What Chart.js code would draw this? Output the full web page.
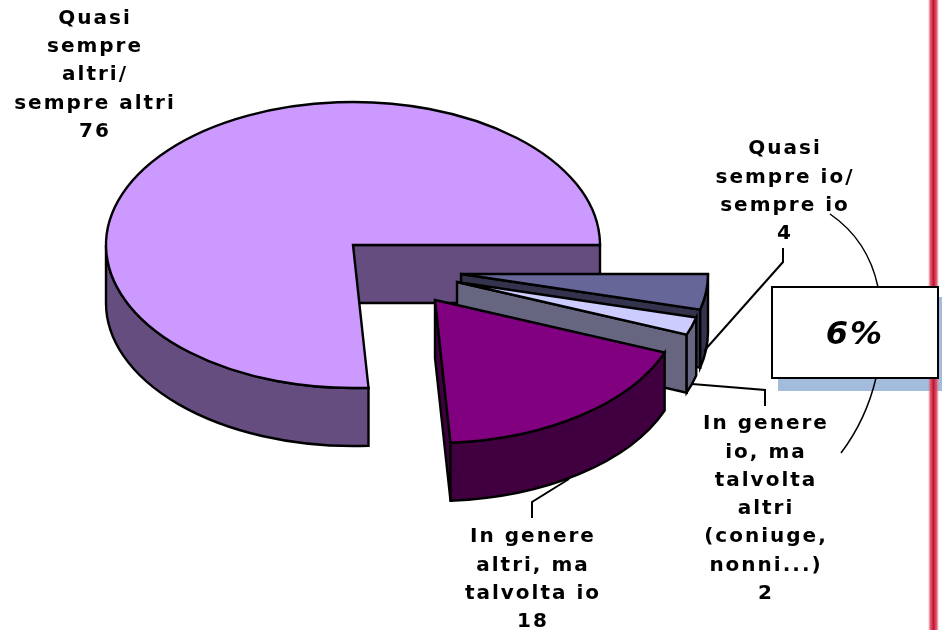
<!DOCTYPE html>
<html>
<head>
<meta charset="utf-8">
<title>Pie</title>
<script src="https://cdn.jsdelivr.net/npm/chart.js@4/dist/chart.umd.js"></script>
<style>
  html, body { margin: 0; padding: 0; background: #fff; }
  canvas { display: block; }
</style>
</head>
<body>
<canvas id="pie" width="942" height="630"></canvas>
<script>
// dati
const categories = ['Quasi sempre altri/ sempre altri', 'Quasi sempre io/ sempre io', 'In genere io, ma talvolta altri (coniuge, nonni...)', 'In genere altri, ma talvolta io'];
const values = [76, 4, 2, 18];
const labelLines = [
    ['Quasi', 'sempre', 'altri/', 'sempre altri', '76'],
    ['Quasi', 'sempre io/', 'sempre io', '4'],
    ['In genere', 'io, ma', 'talvolta', 'altri', '(coniuge,', 'nonni...)', '2'],
    ['In genere', 'altri, ma', 'talvolta io', '18']
];
const calloutText = '6%';

// stile
const topColors = ['#CC99FF', '#666699', '#CCCCFF', '#800080'];
const sideColors = ['#664D80', '#33334D', '#666680', '#400040'];
const explode = [[0, 0], [108, 29], [104, 37], [82, 55]];
const labelPos = [[95, 18.5], [785, 149], [766, 424], [533, 537]];
const lineGap = 28.3;
const squash = 0.579;
const depth = 58;
const pieCenterY = 245;

function rimPath(ctx, cx, cy, r, from, to) {
    ctx.ellipse(cx, cy, r, r * squash, 0, from, to);
}

function drawSlice(ctx, arc, i) {
    const cx = arc.x + explode[i][0];
    const cy = pieCenterY + explode[i][1];
    const r = arc.outerRadius;
    const TAU = Math.PI * 2;
    // gli angoli di Chart.js possono partire oltre 360 gradi
    let a0 = arc.startAngle;
    let a1 = arc.endAngle;
    if (a0 > TAU - 0.001) {
        a0 -= TAU;
        a1 -= TAU;
    }
    const px = a => cx + r * Math.cos(a);
    const py = a => cy + r * squash * Math.sin(a);

    ctx.lineWidth = 2.4;
    ctx.lineJoin = 'miter';
    ctx.strokeStyle = '#000';
    ctx.fillStyle = sideColors[i];

    // pareti radiali visibili
    [[a0, -Math.cos(a0)], [a1, Math.cos(a1)]].forEach(([a, facing]) => {
        if (facing <= 0) return;
        ctx.beginPath();
        ctx.moveTo(cx, cy);
        ctx.lineTo(px(a), py(a));
        ctx.lineTo(px(a), py(a) + depth);
        ctx.lineTo(cx, cy + depth);
        ctx.closePath();
        ctx.fill();
        ctx.stroke();
    });

    // parete esterna (solo la parte davanti)
    const from = Math.max(a0, 0);
    const to = Math.min(a1, Math.PI);
    if (to > from) {
        ctx.beginPath();
        rimPath(ctx, cx, cy, r, from, to);
        ctx.lineTo(px(to), py(to) + depth);
        ctx.ellipse(cx, cy + depth, r, r * squash, 0, to, from, true);
        ctx.closePath();
        ctx.fill();
        ctx.stroke();
    }

    // faccia superiore: riempimento dall'elemento arc, schiacciato
    ctx.save();
    ctx.translate(explode[i][0], cy);
    ctx.scale(1, squash);
    ctx.translate(0, -arc.y);
    arc.draw(ctx);
    ctx.restore();

    ctx.beginPath();
    ctx.moveTo(cx, cy);
    rimPath(ctx, cx, cy, r, a0, a1);
    ctx.closePath();
    ctx.stroke();
}

function polyline(ctx, pts) {
    ctx.beginPath();
    ctx.moveTo(pts[0][0], pts[0][1]);
    pts.slice(1).forEach(p => ctx.lineTo(p[0], p[1]));
    ctx.stroke();
}

const pie3d = {
    id: 'pie3d',
    beforeDatasetsDraw(chart) {
        const ctx = chart.ctx;
        chart.getDatasetMeta(0).data.forEach((arc, i) => drawSlice(ctx, arc, i));
        return false;
    },
    afterDraw(chart) {
        const ctx = chart.ctx;
        ctx.save();

        // ombra del riquadro
        ctx.fillStyle = '#A4BCDC';
        ctx.fillRect(778, 297, 164, 94);

        // riga rossa
        const g = ctx.createLinearGradient(928, 0, 939, 0);
        g.addColorStop(0, 'rgba(230,120,140,0)');
        g.addColorStop(0.2, 'rgba(225,80,100,0.9)');
        g.addColorStop(0.5, 'rgba(190,20,50,1)');
        g.addColorStop(0.8, 'rgba(225,80,100,0.9)');
        g.addColorStop(1, 'rgba(230,120,140,0)');
        ctx.fillStyle = g;
        ctx.fillRect(928, 0, 11, 630);

        // riquadro
        ctx.fillStyle = '#fff';
        ctx.fillRect(772, 287, 166, 91);
        ctx.strokeStyle = '#000';
        ctx.lineWidth = 2;
        ctx.strokeRect(772, 287, 166, 91);

        // linee guida
        polyline(ctx, [[783, 248], [783, 262], [704, 351]]);
        polyline(ctx, [[765, 406], [765, 390], [692, 384]]);
        polyline(ctx, [[532, 518], [532, 502], [569, 479]]);

        // parentesi curve attorno al riquadro
        ctx.lineWidth = 1.5;
        ctx.beginPath();
        ctx.moveTo(830, 214);
        ctx.quadraticCurveTo(868, 240, 878, 287);
        ctx.moveTo(876, 378);
        ctx.quadraticCurveTo(866, 420, 841, 453);
        ctx.stroke();

        // etichette
        ctx.fillStyle = '#000';
        ctx.textAlign = 'center';
        ctx.textBaseline = 'middle';
        ctx.font = 'bold 20px "DejaVu Sans"';
        ctx.letterSpacing = '2px';
        labelLines.forEach((lines, i) => {
            lines.forEach((t, j) => {
                ctx.fillText(t, labelPos[i][0], labelPos[i][1] + j * lineGap);
            });
        });
        ctx.font = 'italic bold 32px "DejaVu Sans"';
        ctx.fillText(calloutText, 855, 336);
        ctx.restore();
    }
};

new Chart(document.getElementById('pie').getContext('2d'), {
    type: 'pie',
    data: {
        labels: categories,
        datasets: [{
            data: values,
            backgroundColor: topColors,
            borderWidth: 0
        }]
    },
    options: {
        responsive: false,
        animation: false,
        rotation: 176.4,
        layout: { padding: { left: 106, right: 342, top: 68, bottom: 68 } },
        plugins: {
            legend: { display: false },
            tooltip: { enabled: false }
        }
    },
    plugins: [pie3d]
});
</script>
</body>
</html>
